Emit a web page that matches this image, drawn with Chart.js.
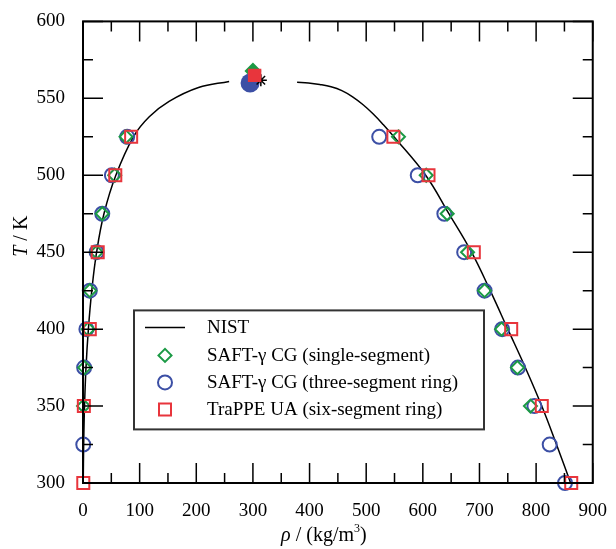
<!DOCTYPE html>
<html lang="en">
<head>
    <meta charset="UTF-8">
    <title>Vapour-liquid coexistence</title>
    <style>
        body { margin: 0; background: #fff; }
    </style>
</head>
<body>
<canvas id="myChart" width="616" height="549"></canvas>

<script src="https://cdn.jsdelivr.net/npm/chart.js"></script>
<script>
    // NIST coexistence curve, vapour and liquid branches (T in K, rho in kg/m3)
    const nistVapT   = [300, 325, 350, 375, 400, 425, 450, 475, 500, 525, 538, 548, 557, 561];
    const nistVapRho = [0.4, 1.2, 2.7, 5.3, 9.5, 15.5, 24, 37, 58, 89, 117, 152, 204, 258];
    const nistLiqT   = [560.5, 560, 559, 557.5, 555, 551, 546, 540, 533, 525, 500, 475, 450, 425, 400, 375, 350, 325, 300];
    const nistLiqRho = [378, 398, 418, 438, 457, 476, 494, 512, 530, 549, 605, 646, 686, 719, 750, 781, 810, 836, 861];
    const nistCrit = [314, 561.7];

    // SAFT-gamma CG, single segment
    const singleT      = [350, 375, 400, 425, 450, 475, 500, 525];
    const singleVapRho = [1, 3, 9, 12, 24, 34, 56, 76];
    const singleLiqRho = [790, 767, 739, 709, 679, 643, 606, 557];
    const singleCrit = [300, 567.7];

    // SAFT-gamma CG, three-segment ring
    const ringVapT   = [325, 375, 400, 425, 450, 475, 500, 525];
    const ringVapRho = [0.5, 2, 6, 12, 24, 34, 51, 78];
    const ringLiqT   = [300, 325, 350, 375, 400, 425, 450, 475, 500, 525];
    const ringLiqRho = [851, 824, 797, 768, 740, 709, 673, 638, 591, 523];
    const ringCrit = [295, 560];

    // TraPPE UA, six-segment ring
    const trappeT      = [300, 350, 400, 450, 500, 525];
    const trappeVapRho = [0.5, 1.5, 12, 26, 57, 85];
    const trappeLiqRho = [862, 810, 756, 690, 610, 548];
    const trappeCrit = [303, 564.9];

    const green = '#1b9a45';
    const blue = '#3c4fa5';
    const red = '#e8353c';
    const serif = '"Liberation Serif", "DejaVu Serif", serif';

    function pts(rho, T) {
        return rho.map((r, i) => ({x: r, y: T[i]}));
    }

    const frameTicks = {
        id: 'frameTicks',
        afterDatasetsDraw(chart) {
            const {ctx, chartArea: a, scales: {x, y}} = chart;
            ctx.save();
            ctx.strokeStyle = '#000';
            ctx.lineWidth = 1.5;
            ctx.beginPath();
            for (let v = 0; v <= 900; v += 50) {
                const px = x.getPixelForValue(v);
                const len = v % 100 === 0 ? 20 : 10;
                ctx.moveTo(px, a.bottom); ctx.lineTo(px, a.bottom - len);
                ctx.moveTo(px, a.top); ctx.lineTo(px, a.top + len);
            }
            for (let v = 300; v <= 600; v += 25) {
                const py = y.getPixelForValue(v);
                const len = v % 50 === 0 ? 20 : 10;
                ctx.moveTo(a.left, py); ctx.lineTo(a.left + len, py);
                ctx.moveTo(a.right, py); ctx.lineTo(a.right - len, py);
            }
            ctx.stroke();
            ctx.lineWidth = 2;
            ctx.strokeRect(a.left, a.top, a.right - a.left, a.bottom - a.top);
            ctx.restore();
        }
    };

    const legendBox = {
        id: 'legendBox',
        afterDraw(chart) {
            const {ctx, chartArea: a} = chart;
            const left = a.left + 51, top = a.top + 289, w = 350, h = 119;
            ctx.save();
            ctx.fillStyle = '#fff';
            ctx.fillRect(left, top, w, h);
            ctx.strokeStyle = '#333';
            ctx.lineWidth = 2;
            ctx.strokeRect(left, top, w, h);

            const mx = left + 31, tx = left + 73;
            const rows = [top + 17, top + 45, top + 72, top + 99];
            const items = chart.data.datasets.filter(d => d.inLegend);
            ctx.font = '19px ' + serif;
            ctx.textBaseline = 'middle';
            items.forEach((d, i) => {
                const cy = rows[i];
                ctx.strokeStyle = d.borderColor;
                ctx.lineWidth = 2;
                ctx.beginPath();
                if (d.pointStyle === 'line') {
                    ctx.lineWidth = 1.5;
                    ctx.moveTo(mx - 20, cy); ctx.lineTo(mx + 20, cy);
                } else if (d.pointStyle === 'rectRot') {
                    ctx.moveTo(mx - 6.5, cy); ctx.lineTo(mx, cy - 6.5);
                    ctx.lineTo(mx + 6.5, cy); ctx.lineTo(mx, cy + 6.5); ctx.closePath();
                } else if (d.pointStyle === 'circle') {
                    ctx.arc(mx, cy, 7, 0, Math.PI * 2);
                } else {
                    ctx.rect(mx - 6, cy - 6, 12, 12);
                }
                ctx.stroke();
                ctx.fillStyle = '#000';
                ctx.fillText(d.label, tx, cy + 1);
            });
            ctx.restore();
        }
    };

    const axisTitles = {
        id: 'axisTitles',
        afterDraw(chart) {
            const {ctx, chartArea: a} = chart;
            const reg = '20px ' + serif, ital = 'italic 20px ' + serif, sup = '12px ' + serif;
            ctx.save();
            ctx.fillStyle = '#000';
            ctx.textBaseline = 'alphabetic';

            // x title: rho / (kg/m^3)
            const parts = [[ital, '\u03C1', 0], [reg, ' / (kg/m', 0], [sup, '3', -9], [reg, ')', 0]];
            let total = 0;
            parts.forEach(p => { ctx.font = p[0]; total += ctx.measureText(p[1]).width; });
            let x0 = (a.left + a.right) / 2 - total / 2 - 14;
            parts.forEach(p => {
                ctx.font = p[0];
                ctx.fillText(p[1], x0, 541 + p[2]);
                x0 += ctx.measureText(p[1]).width;
            });

            // y title: T / K
            ctx.translate(27, (a.top + a.bottom) / 2);
            ctx.rotate(-Math.PI / 2);
            const yparts = [[ital, 'T'], [reg, ' / K']];
            let yt = 0;
            yparts.forEach(p => { ctx.font = p[0]; yt += ctx.measureText(p[1]).width; });
            let y0 = -yt / 2 + 16;
            yparts.forEach(p => {
                ctx.font = p[0];
                ctx.fillText(p[1], y0, 0);
                y0 += ctx.measureText(p[1]).width;
            });
            ctx.restore();
        }
    };

    function init() {
        let ctx = document.getElementById('myChart').getContext('2d');
        const hollow = (label, data, style, color, radius, order) => ({
            label: label,
            data: data,
            showLine: false,
            pointStyle: style,
            pointRadius: radius,
            pointBorderWidth: 2,
            borderColor: color,
            backgroundColor: 'rgba(0,0,0,0)',
            order: order,
            clip: false,
            inLegend: true
        });
        const filled = (data, style, color, radius, order) => ({
            label: '',
            data: [{x: data[0], y: data[1]}],
            showLine: false,
            pointStyle: style,
            pointRadius: radius,
            pointBorderWidth: 0,
            borderColor: color,
            backgroundColor: color,
            order: order
        });
        const nistLine = (data, inLegend) => ({
            label: 'NIST',
            data: data,
            showLine: true,
            pointRadius: 0,
            pointStyle: 'line',
            borderColor: '#000',
            borderWidth: 1.5,
            tension: 0.4,
            order: 10,
            inLegend: inLegend
        });

        new Chart(ctx, {
            type: 'scatter',
            data: {
                datasets: [
                    nistLine(pts(nistVapRho, nistVapT), true),
                    nistLine(pts(nistLiqRho, nistLiqT), false),
                    hollow('SAFT-\u03B3 CG (single-segment)', pts(singleVapRho, singleT).concat(pts(singleLiqRho, singleT)), 'rectRot', green, 6.5, 5),
                    hollow('SAFT-\u03B3 CG (three-segment ring)', pts(ringVapRho, ringVapT).concat(pts(ringLiqRho, ringLiqT)), 'circle', blue, 7, 6),
                    hollow('TraPPE UA (six-segment ring)', pts(trappeVapRho, trappeT).concat(pts(trappeLiqRho, trappeT)), 'rect', red, 8.5, 4),
                    filled(singleCrit, 'rectRot', green, 8.5, 3),
                    filled(ringCrit, 'circle', blue, 9.5, 2),
                    {
                        label: '',
                        data: [{x: nistCrit[0], y: nistCrit[1]}],
                        pointStyle: 'star',
                        pointRadius: 6,
                        pointBorderWidth: 1.5,
                        borderColor: '#000',
                        backgroundColor: '#000',
                        order: 1.5
                    },
                    filled(trappeCrit, 'rect', red, 9.5, 1)
                ]
            },
            options: {
                responsive: false,
                animation: false,
                layout: {padding: {top: 19, right: 17, left: 0, bottom: 0}},
                plugins: {
                    legend: {display: false},
                    tooltip: {enabled: false}
                },
                scales: {
                    x: {
                        type: 'linear',
                        min: 0,
                        max: 900,
                        grid: {display: false},
                        border: {display: false},
                        ticks: {stepSize: 100, color: '#000', padding: 9, font: {family: serif, size: 19}},
                        afterFit: s => { s.height = 66; }
                    },
                    y: {
                        type: 'linear',
                        min: 300,
                        max: 600,
                        grid: {display: false},
                        border: {display: false},
                        ticks: {stepSize: 50, color: '#000', padding: 10, font: {family: serif, size: 19}},
                        afterFit: s => { s.width = 83; }
                    }
                }
            },
            plugins: [frameTicks, legendBox, axisTitles]
        });
    }

    document.addEventListener('DOMContentLoaded', init);
</script>
</body>
</html>
